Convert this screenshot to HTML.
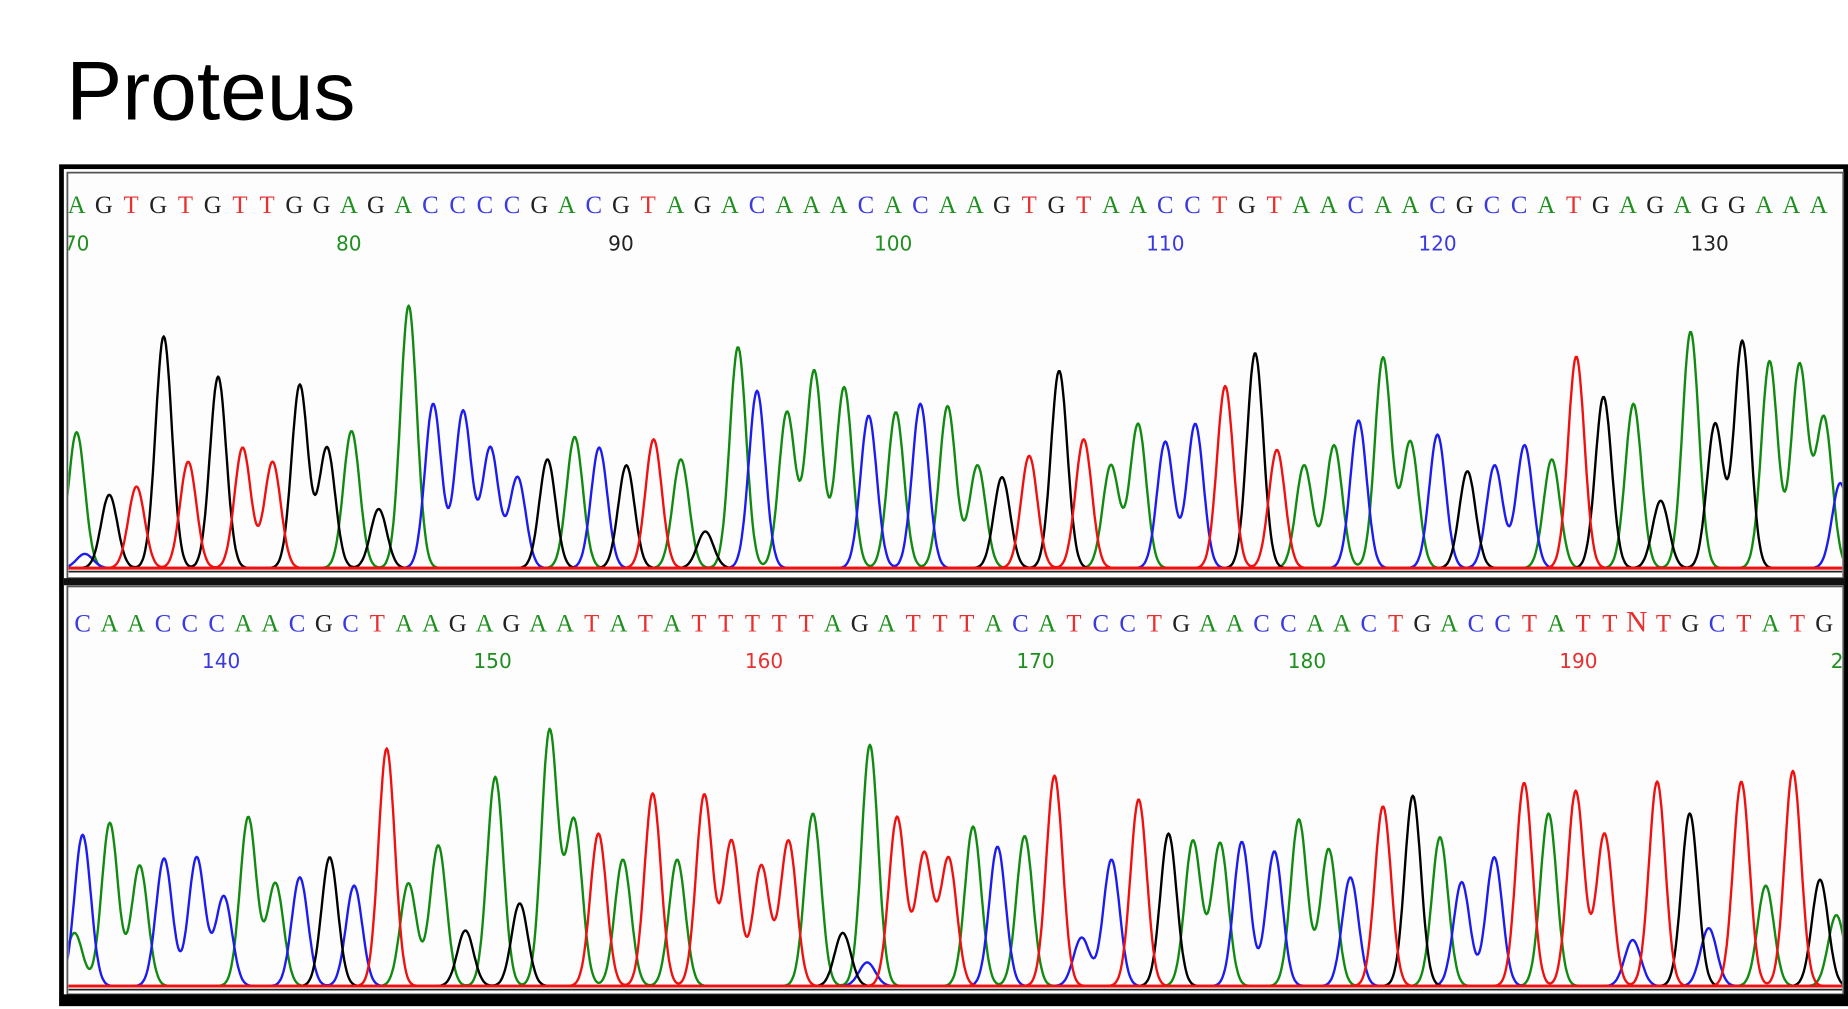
<!DOCTYPE html>
<html><head><meta charset="utf-8"><style>
html,body{margin:0;padding:0;background:#fff;}
svg{display:block;}
</style></head><body>
<svg id="chart" xmlns="http://www.w3.org/2000/svg" width="1848" height="1009" viewBox="0 0 1563 853.4" preserveAspectRatio="none">
<defs>
<clipPath id="clip1"><rect x="58" y="148" width="1500" height="338"/></clipPath>
<clipPath id="clip2"><rect x="58" y="498" width="1500" height="340"/></clipPath>
</defs>
<text x="56" y="101" font-family="Liberation Sans, sans-serif" font-size="71" fill="#000">Proteus</text>
<rect x="52" y="141" width="1509" height="708" fill="#fff" stroke="#000" stroke-width="4"/>
<rect x="57" y="146" width="1502" height="343" fill="#fdfdfd" stroke="#555" stroke-width="1.5"/>
<rect x="54" y="489" width="1507" height="6" fill="#111"/>
<rect x="57" y="496" width="1502" height="345" fill="#fdfdfd" stroke="#555" stroke-width="1.5"/>
<rect x="52" y="841" width="1509" height="9" fill="#000"/>
<g id="p1"></g>
<g id="p2"></g>
</svg>
<script>
// Panel 1 data (positions in base units, heights in signal units)
const p1_seq = "AGTGTGTTGGAGACCCCGACGTAGACAAACACAAGTGTAACCTGTAACAACGCCATGAGAGGAAA";
const p1_ticks = [70,80,90,100,110,120,130];
const p1_tickColors = ["A","A","G","A","C","C","G"];
const p1_A_pos = [70.0,80.1,82.2,88.3,92.2,94.3,96.1,97.1,98.2,100.1,102.0,103.1,108.0,109.0,115.1,116.2,118.0,119.0,124.2,127.2,129.3,132.2,133.3,134.2];
const p1_A_h   = [115,116,222,111,92,187,132,167,153,132,137,87,87,122,87,104,178,107,92,139,200,175,172,127];
const p1_C_pos = [70.3,83.1,84.2,85.2,86.2,89.2,95.0,99.1,101.0,110.0,111.1,117.1,120.0,122.1,123.2,134.8];
const p1_C_h   = [12,139,133,102,77,102,150,129,139,107,122,125,113,87,104,72];
const p1_G_pos = [71.2,73.2,75.2,78.2,79.2,81.1,87.3,90.2,93.1,104.0,106.1,113.3,121.1,126.1,128.2,130.2,131.2];
const p1_G_h   = [62,196,162,155,102,50,92,87,31,77,167,182,82,145,57,122,192];
const p1_T_pos = [72.2,74.1,76.1,77.2,91.2,105.0,107.0,112.2,114.1,125.1];
const p1_T_h   = [69,90,102,90,109,95,109,154,100,179];

// Panel 2 data
const p2_seq = "CAACCCAACGCTAAGAGAATATATTTTTAGATTTACATCCTGAACCAACTGACCTATTNTGCTATG";
const p2_ticks = [140,150,160,170,180,190,200];
const p2_tickColors = ["C","A","T","A","A","T","A"];
const p2_A_pos = [134.6,135.9,137.0,141.0,142.0,146.9,148.0,150.1,152.1,153.0,154.8,156.8,161.8,163.9,167.7,169.6,175.8,176.8,179.7,180.8,184.9,188.9,196.9,199.5];
const p2_A_h   = [45,138,102,143,87,87,119,177,216,140,107,107,146,204,135,127,123,121,141,116,126,146,85,60];
const p2_C_pos = [134.9,137.9,139.1,140.1,142.9,144.9,163.8,168.6,171.7,172.8,177.6,178.8,181.6,185.7,186.9,192.0,194.8];
const p2_C_h   = [128,108,109,76,92,85,20,118,41,107,122,114,92,88,109,39,49];
const p2_G_pos = [144.0,149.0,151.0,162.9,174.9,183.9,194.1,198.9];
const p2_G_h   = [109,47,70,45,129,161,146,90];
const p2_T_pos = [146.1,153.9,155.9,157.8,158.8,159.9,160.9,164.9,165.9,166.8,170.7,173.8,182.8,188.0,189.9,190.96,192.9,196.0,197.9];
const p2_T_h   = [201,129,163,162,123,102,123,143,112,108,178,158,152,172,165,129,173,173,182];

const NS = "http://www.w3.org/2000/svg";
const COL = {A:"#108a10", C:"#1c1cf0", G:"#000000", T:"#f01010", N:"#f01010"};
const TXT = {A:"#1f8f1f", C:"#3a3ae0", G:"#222222", T:"#e83030", N:"#e83030"};
const SIGMA = 0.3;

function mk(tag, attrs, parent){
  const el = document.createElementNS(NS, tag);
  for (const k in attrs) el.setAttribute(k, attrs[k]);
  parent.appendChild(el);
  return el;
}

function drawPanel(g, cfg){
  const xs = b => cfg.x0 + (b - cfg.b0) * cfg.pxPerBase;
  const ys = v => cfg.base - v * cfg.k;
  const lg = mk("g", {"clip-path": "url(#" + cfg.clip + ")"}, g);
  
  
  // bases
  for (let i = 0; i < cfg.seq.length; i++){
    const ch = cfg.seq[i];
    const b = cfg.seqStart + i * cfg.seqStep;
    const t = mk("text", {x: xs(b), y: cfg.seqY, "text-anchor":"middle", "font-family":"Liberation Serif, serif", "font-size": ch==="N"?25:21, fill: TXT[ch]}, lg);
    
    
    t.textContent = ch;
  }
  // ticks
  cfg.ticks.forEach((v, i) => {
    const t = mk("text", {x: xs(v), y: cfg.numY, "text-anchor":"middle", "font-family":"DejaVu Sans, sans-serif", "font-size":17, fill: TXT[cfg.tickColors[i]]}, lg);
    
    
    t.textContent = v;
  });
  const tg = mk("g", {"clip-path": "url(#" + cfg.clip + ")"}, g);
  
  
  const chans = [["A", cfg.A_pos, cfg.A_h], ["C", cfg.C_pos, cfg.C_h], ["G", cfg.G_pos, cfg.G_h], ["T", cfg.T_pos, cfg.T_h]];
  chans.forEach(([ch, pos, h]) => {
    let d = "";
    for (let b = cfg.bMin; b <= cfg.bMax; b += 0.04){
      let v = 0;
      for (let j = 0; j < pos.length; j++){
        const dz = (b - pos[j]) / SIGMA;
        if (Math.abs(dz) < 6) v += h[j] * Math.exp(-0.5 * dz * dz);
      }
      d += (d ? "L" : "M") + xs(b).toFixed(1) + " " + ys(v).toFixed(1);
    }
    const p = mk("path", {d: d, fill: "none", stroke: COL[ch], "stroke-width": 2, "stroke-linejoin":"round"}, tg);
    
    
  });
  const bl = mk("line", {x1: 58, x2: 1558, y1: cfg.base, y2: cfg.base, stroke: "#f01010", "stroke-width": 2.5}, tg);
  
  
  const bl2 = mk("line", {x1: 58, x2: 1558, y1: cfg.base + 3, y2: cfg.base + 3, stroke: "#222", "stroke-width": 1.5}, g);
  
  
}

drawPanel(document.getElementById("p1"), {
  x0: 295, b0: 80, pxPerBase: 23.02, base: 480.5, k: 1, clip: "clip1",
  seq: p1_seq, seqStart: 70, seqStep: 1.0, seqY: 180, numY: 212,
  ticks: p1_ticks, tickColors: p1_tickColors, bMin: 69, bMax: 136.5,
  A_pos: p1_A_pos, A_h: p1_A_h, C_pos: p1_C_pos, C_h: p1_C_h,
  G_pos: p1_G_pos, G_h: p1_G_h, T_pos: p1_T_pos, T_h: p1_T_h
});
drawPanel(document.getElementById("p2"), {
  x0: 187, b0: 140, pxPerBase: 22.96, base: 834, k: 1, clip: "clip2",
  seq: p2_seq, seqStart: 134.9, seqStep: 0.987, seqY: 534, numY: 565,
  ticks: p2_ticks, tickColors: p2_tickColors, bMin: 133.5, bMax: 200.5,
  A_pos: p2_A_pos, A_h: p2_A_h, C_pos: p2_C_pos, C_h: p2_C_h,
  G_pos: p2_G_pos, G_h: p2_G_h, T_pos: p2_T_pos, T_h: p2_T_h
});
</script>
</body></html>
